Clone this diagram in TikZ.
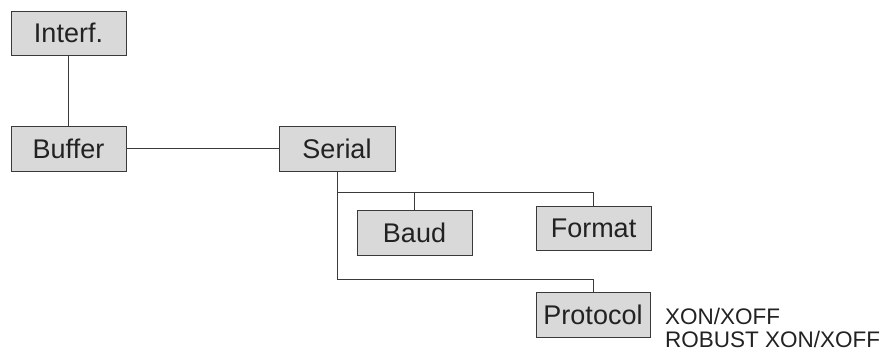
\documentclass[tikz,border=0pt]{standalone}
\usepackage{fontspec}
\setmainfont{Liberation Sans}
\definecolor{boxfill}{HTML}{D9D9D9}
\definecolor{edge}{HTML}{3A3A3A}
\definecolor{ink}{HTML}{222222}
\begin{document}
\begin{tikzpicture}[x=1pt,y=1pt,
  blk/.style={draw=edge,fill=boxfill,line width=0.9pt,inner sep=0pt,
    font=\fontsize{27}{30}\selectfont,text=ink},
  conn/.style={draw=edge,line width=0.8pt},
  note/.style={anchor=base west,inner sep=0pt,text=ink,font=\fontsize{22.5}{25}\selectfont}]
\useasboundingbox (0,0) rectangle (882,-352);
\node[blk,minimum width=115,minimum height=44] (interf) at (68.5,-33) {Interf.};
\node[blk,minimum width=115,minimum height=45] (buffer) at (68.5,-148.5) {Buffer};
\node[blk,minimum width=116,minimum height=45] (serial) at (337,-148.5) {Serial};
\node[blk,minimum width=115,minimum height=45] (baud) at (414.5,-232.5) {Baud};
\node[blk,minimum width=115,minimum height=44] (format) at (593.5,-228) {Format};
\node[blk,minimum width=114,minimum height=45] (protocol) at (593,-314.5) {Protocol};
\coordinate (fork) at (337,-192);
\coordinate (pfork) at (337,-279);
\draw[conn] (interf.south) -- (buffer.north);
\draw[conn] (buffer.east) -- (serial.west);
\draw[conn] (serial.south) -- (pfork) -| (protocol.north);
\draw[conn] (fork) -| (format.north);
\draw[conn] (baud.north) -- (baud.north |- fork);
\node[note] (x1) at (665,-324) {XON/XOFF};
\node[note] (x2) at (665,-347.5) {ROBUST XON/XOFF};
\end{tikzpicture}
\end{document}
